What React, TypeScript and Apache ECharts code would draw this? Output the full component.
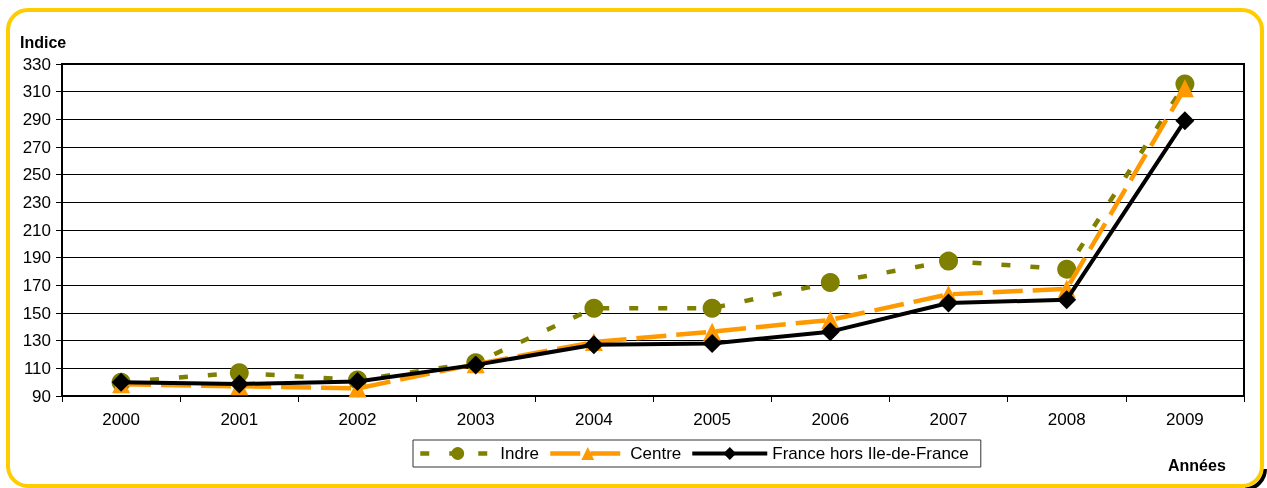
import React, { useEffect, useRef } from "react";
import * as echarts from "echarts";

const years = ["2000", "2001", "2002", "2003", "2004", "2005", "2006", "2007", "2008", "2009"];
const indre = [100, 106.8, 101.5, 114, 153.5, 153.5, 172, 187.5, 181.7, 315.5];
const centre = [98.5, 97, 95.5, 113, 129, 136.5, 145, 163.5, 167.5, 312.5];
const france = [100, 98.7, 100.5, 112.5, 127, 128, 136.5, 157.2, 159.6, 289];
const yMin = 90;
const yMax = 330;
const yStep = 20;

const FONT = "'Liberation Sans', Arial, sans-serif";

export default function App() {
  const ref = useRef<HTMLDivElement>(null);
  useEffect(() => {
    if (!ref.current) return;
    const chart = echarts.init(ref.current, undefined, { renderer: "svg" });
    chart.setOption({
      animation: false,
      textStyle: { fontFamily: FONT },
      graphic: [
        {
          type: "rect",
          z: -10,
          shape: { x: 8, y: 10, width: 1254, height: 476, r: 20 },
          style: { fill: "#fff", stroke: "#FFCC00", lineWidth: 4 },
        },
        {
          type: "arc",
          z: -11,
          shape: { cx: 1245, cy: 469, r: 20, startAngle: 0, endAngle: Math.PI / 2 },
          style: { stroke: "#000", lineWidth: 4, fill: "none" },
        },
        {
          type: "text",
          left: 20,
          top: 34,
          style: { text: "Indice", font: `bold 16px ${FONT}`, fill: "#000" },
        },
        {
          type: "text",
          left: 1168,
          top: 457,
          style: { text: "Années", font: `bold 16px ${FONT}`, fill: "#000" },
        },
      ],
      grid: {
        left: 62,
        right: 23,
        top: 64,
        bottom: 92,
        show: true,
        borderColor: "#000",
        borderWidth: 2,
        backgroundColor: "transparent",
      },
      legend: {
        left: 413,
        top: 440,
        itemWidth: 75,
        itemHeight: 16,
        itemGap: 9,
        padding: [5, 12, 5, 5],
        borderColor: "#333",
        borderWidth: 1,
        borderRadius: 0,
        backgroundColor: "#fff",
        textStyle: { fontSize: 17, color: "#000", fontFamily: FONT },
        data: [
          { name: "Indre", lineStyle: { width: 4.5, type: [9, 20], color: "#808000" } },
          { name: "Centre", lineStyle: { width: 4.5, type: [30, 10], color: "#FF9900" } },
          { name: "France hors Ile-de-France", lineStyle: { width: 4, type: "solid", color: "#000" } },
        ],
      },
      xAxis: {
        type: "category",
        data: years,
        boundaryGap: true,
        axisLine: { lineStyle: { color: "#000", width: 2 } },
        axisTick: { show: true, length: 6, alignWithLabel: false, lineStyle: { color: "#000", width: 1 } },
        axisLabel: { color: "#000", fontSize: 17, margin: 15, fontFamily: FONT },
        splitLine: { show: false },
      },
      yAxis: {
        type: "value",
        min: yMin,
        max: yMax,
        interval: yStep,
        axisLine: { show: true, lineStyle: { color: "#000", width: 2 } },
        axisTick: { show: true, length: 6, lineStyle: { color: "#000", width: 1 } },
        axisLabel: { color: "#000", fontSize: 17, margin: 11, fontFamily: FONT },
        splitLine: { show: true, lineStyle: { color: "#000", width: 1 } },
      },
      series: [
        {
          name: "Indre",
          type: "line",
          data: indre,
          symbol: "circle",
          symbolSize: 19,
          z: 2,
          itemStyle: { color: "#808000" },
          lineStyle: { color: "#808000", width: 4.5, type: [9, 20] },
        },
        {
          name: "Centre",
          type: "line",
          data: centre,
          symbol: "triangle",
          symbolSize: 18,
          z: 3,
          itemStyle: { color: "#FF9900" },
          lineStyle: { color: "#FF9900", width: 4.5, type: [30, 10] },
        },
        {
          name: "France hors Ile-de-France",
          type: "line",
          data: france,
          symbol: "diamond",
          symbolSize: 19,
          z: 4,
          itemStyle: { color: "#000" },
          lineStyle: { color: "#000", width: 4 },
        },
      ],
    });
    return () => chart.dispose();
  }, []);
  return (
    <div
      ref={ref}
      style={{ position: "fixed", left: 0, top: 0, width: 1267, height: 488 }}
    />
  );
}
